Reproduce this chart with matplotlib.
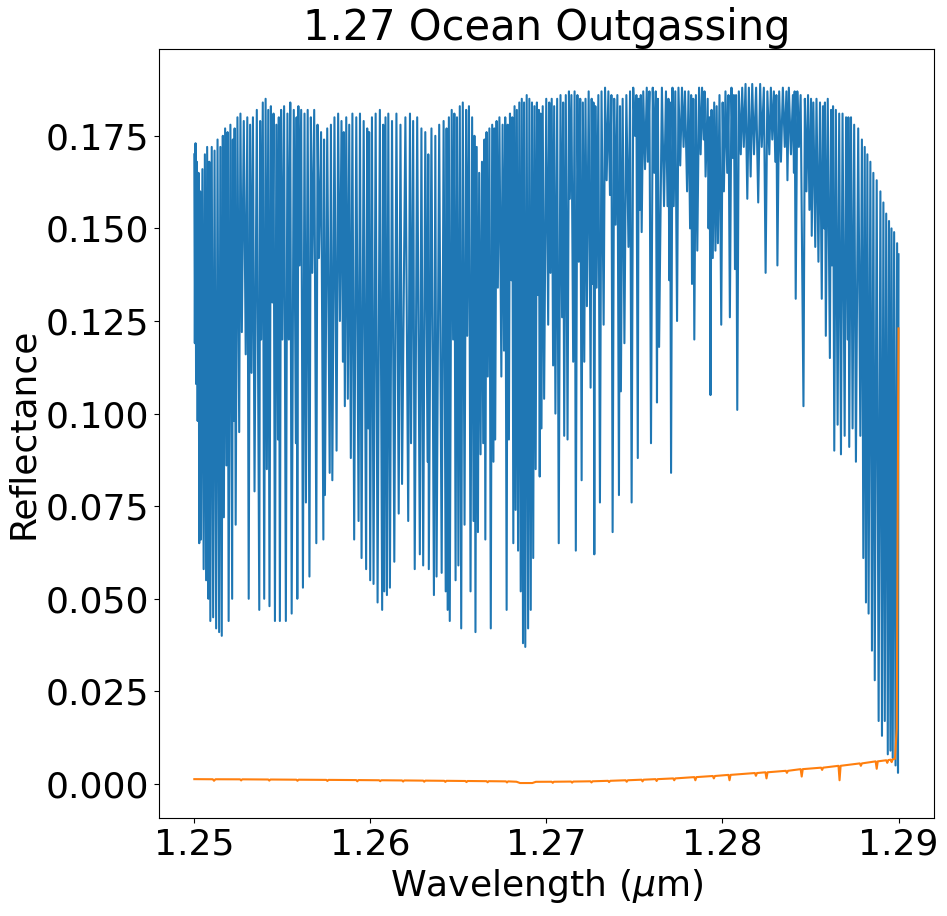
import numpy as np
import matplotlib
matplotlib.use("Agg")
import matplotlib.pyplot as plt

# Reflectance spectrum (wavelength in nm)
blue_wl_nm = [
    1250.00, 1250.03, 1250.07, 1250.10, 1250.14, 1250.19, 1250.24, 1250.28, 1250.33, 1250.38,
    1250.46, 1250.53, 1250.60, 1250.67, 1250.73, 1250.80, 1250.85, 1250.91, 1250.99, 1251.07,
    1251.15, 1251.24, 1251.32, 1251.41, 1251.48, 1251.56, 1251.62, 1251.68, 1251.75, 1251.82,
    1251.89, 1251.95, 1252.05, 1252.15, 1252.19, 1252.24, 1252.29, 1252.35, 1252.45, 1252.55,
    1252.62, 1252.70, 1252.81, 1252.92, 1253.01, 1253.09, 1253.17, 1253.25, 1253.33, 1253.42,
    1253.55, 1253.69, 1253.74, 1253.80, 1253.89, 1253.97, 1254.05, 1254.12, 1254.20, 1254.27,
    1254.35, 1254.43, 1254.50, 1254.58, 1254.66, 1254.75, 1254.80, 1254.86, 1254.93, 1255.00,
    1255.10, 1255.20, 1255.29, 1255.37, 1255.45, 1255.53, 1255.65, 1255.77, 1255.81, 1255.85,
    1255.91, 1255.98, 1256.07, 1256.17, 1256.26, 1256.34, 1256.44, 1256.54, 1256.62, 1256.70,
    1256.81, 1256.93, 1257.00, 1257.08, 1257.20, 1257.33, 1257.37, 1257.42, 1257.55, 1257.69,
    1257.76, 1257.84, 1257.96, 1258.08, 1258.17, 1258.27, 1258.36, 1258.44, 1258.49, 1258.55,
    1258.63, 1258.72, 1258.80, 1258.89, 1258.98, 1259.08, 1259.20, 1259.33, 1259.41, 1259.50,
    1259.62, 1259.76, 1259.82, 1259.88, 1259.93, 1259.99, 1260.09, 1260.18, 1260.30, 1260.41,
    1260.54, 1260.67, 1260.73, 1260.79, 1260.86, 1260.94, 1261.02, 1261.11, 1261.23, 1261.36,
    1261.48, 1261.61, 1261.71, 1261.80, 1261.99, 1262.15, 1262.25, 1262.31, 1262.43, 1262.52,
    1262.66, 1262.81, 1262.90, 1263.00, 1263.12, 1263.25, 1263.29, 1263.32, 1263.47, 1263.61,
    1263.69, 1263.76, 1263.91, 1264.05, 1264.16, 1264.28, 1264.33, 1264.39, 1264.46, 1264.51,
    1264.62, 1264.70, 1264.77, 1264.84, 1264.92, 1265.00, 1265.08, 1265.16, 1265.25, 1265.35,
    1265.44, 1265.50, 1265.60, 1265.69, 1265.78, 1265.86, 1265.91, 1265.97, 1266.04, 1266.11,
    1266.18, 1266.26, 1266.34, 1266.41, 1266.48, 1266.53, 1266.60, 1266.67, 1266.76, 1266.84,
    1266.92, 1266.99, 1267.04, 1267.09, 1267.17, 1267.24, 1267.33, 1267.44, 1267.51, 1267.59,
    1267.66, 1267.74, 1267.80, 1267.87, 1267.93, 1268.01, 1268.06, 1268.12, 1268.19, 1268.25,
    1268.32, 1268.39, 1268.46, 1268.54, 1268.60, 1268.67, 1268.73, 1268.80, 1268.88, 1268.96,
    1269.03, 1269.11, 1269.18, 1269.25, 1269.32, 1269.39, 1269.46, 1269.53, 1269.57, 1269.62,
    1269.67, 1269.72, 1269.79, 1269.87, 1269.99, 1270.10, 1270.16, 1270.23, 1270.30, 1270.38,
    1270.44, 1270.51, 1270.61, 1270.70, 1270.80, 1270.89, 1270.95, 1271.01, 1271.10, 1271.20,
    1271.28, 1271.33, 1271.42, 1271.52, 1271.60, 1271.67, 1271.76, 1271.84, 1271.92, 1272.00,
    1272.07, 1272.15, 1272.22, 1272.30, 1272.40, 1272.51, 1272.57, 1272.62, 1272.67, 1272.72,
    1272.78, 1272.85, 1272.95, 1273.04, 1273.13, 1273.25, 1273.33, 1273.42, 1273.52, 1273.61,
    1273.69, 1273.76, 1273.85, 1273.93, 1274.03, 1274.12, 1274.18, 1274.23, 1274.33, 1274.43,
    1274.54, 1274.66, 1274.75, 1274.84, 1274.93, 1275.03, 1275.11, 1275.19, 1275.24, 1275.30,
    1275.36, 1275.41, 1275.50, 1275.60, 1275.70, 1275.76, 1275.85, 1275.94, 1276.04, 1276.13,
    1276.21, 1276.28, 1276.33, 1276.40, 1276.56, 1276.68, 1276.79, 1276.88, 1276.93, 1276.98,
    1277.02, 1277.08, 1277.16, 1277.23, 1277.32, 1277.42, 1277.50, 1277.60, 1277.70, 1277.79,
    1277.87, 1277.99, 1278.07, 1278.16, 1278.22, 1278.27, 1278.34, 1278.40, 1278.49, 1278.57,
    1278.67, 1278.76, 1278.84, 1278.93, 1278.98, 1279.04, 1279.16, 1279.21, 1279.27, 1279.32,
    1279.38, 1279.45, 1279.53, 1279.60, 1279.67, 1279.74, 1279.83, 1279.93, 1280.01, 1280.08,
    1280.17, 1280.27, 1280.34, 1280.42, 1280.51, 1280.59, 1280.65, 1280.71, 1280.77, 1280.84,
    1280.93, 1281.04, 1281.12, 1281.21, 1281.31, 1281.41, 1281.50, 1281.60, 1281.69, 1281.79,
    1281.91, 1282.03, 1282.14, 1282.23, 1282.35, 1282.45, 1282.55, 1282.66, 1282.75, 1282.83,
    1282.92, 1283.00, 1283.06, 1283.12, 1283.22, 1283.32, 1283.43, 1283.54, 1283.63, 1283.69,
    1283.77, 1283.89, 1284.00, 1284.06, 1284.10, 1284.16, 1284.25, 1284.34, 1284.44, 1284.60,
    1284.68, 1284.77, 1284.86, 1284.94, 1285.03, 1285.07, 1285.16, 1285.27, 1285.34, 1285.45,
    1285.54, 1285.64, 1285.71, 1285.78, 1285.82, 1285.87, 1285.98, 1286.10, 1286.17, 1286.22,
    1286.28, 1286.35, 1286.44, 1286.54, 1286.63, 1286.73, 1286.82, 1286.94, 1287.02, 1287.11,
    1287.15, 1287.20, 1287.30, 1287.39, 1287.48, 1287.58, 1287.71, 1287.83, 1287.92, 1288.00,
    1288.08, 1288.15, 1288.23, 1288.30, 1288.40, 1288.49, 1288.57, 1288.65, 1288.76, 1288.87,
    1288.97, 1289.06, 1289.14, 1289.22, 1289.30, 1289.39, 1289.46, 1289.54, 1289.60, 1289.67,
    1289.75, 1289.83, 1289.92, 1289.97, 1290.00,
]
blue_refl = [
    0.170, 0.119, 0.173, 0.108, 0.168, 0.098, 0.165, 0.065, 0.160, 0.066,
    0.166, 0.058, 0.170, 0.055, 0.172, 0.050, 0.168, 0.044, 0.172, 0.045,
    0.171, 0.042, 0.174, 0.041, 0.172, 0.040, 0.175, 0.072, 0.177, 0.086,
    0.176, 0.044, 0.178, 0.050, 0.174, 0.098, 0.177, 0.070, 0.180, 0.095,
    0.181, 0.122, 0.179, 0.116, 0.180, 0.050, 0.178, 0.111, 0.180, 0.079,
    0.182, 0.047, 0.179, 0.120, 0.184, 0.050, 0.185, 0.085, 0.182, 0.048,
    0.183, 0.130, 0.181, 0.044, 0.178, 0.093, 0.180, 0.044, 0.182, 0.120,
    0.183, 0.044, 0.181, 0.120, 0.184, 0.046, 0.182, 0.092, 0.180, 0.050,
    0.183, 0.140, 0.182, 0.053, 0.181, 0.076, 0.182, 0.056, 0.180, 0.138,
    0.182, 0.065, 0.178, 0.142, 0.176, 0.066, 0.174, 0.078, 0.177, 0.084,
    0.178, 0.082, 0.180, 0.090, 0.181, 0.125, 0.179, 0.114, 0.176, 0.102,
    0.180, 0.104, 0.178, 0.088, 0.181, 0.066, 0.180, 0.071, 0.181, 0.061,
    0.179, 0.058, 0.177, 0.096, 0.176, 0.055, 0.180, 0.054, 0.181, 0.049,
    0.182, 0.047, 0.178, 0.052, 0.180, 0.051, 0.181, 0.053, 0.179, 0.060,
    0.181, 0.073, 0.178, 0.081, 0.180, 0.071, 0.181, 0.092, 0.179, 0.058,
    0.180, 0.062, 0.177, 0.059, 0.176, 0.087, 0.170, 0.058, 0.177, 0.051,
    0.175, 0.056, 0.178, 0.057, 0.179, 0.052, 0.177, 0.047, 0.180, 0.044,
    0.182, 0.120, 0.181, 0.055, 0.180, 0.059, 0.183, 0.042, 0.184, 0.070,
    0.182, 0.121, 0.183, 0.052, 0.180, 0.071, 0.175, 0.041, 0.172, 0.068,
    0.165, 0.089, 0.168, 0.092, 0.174, 0.066, 0.176, 0.110, 0.177, 0.042,
    0.178, 0.087, 0.177, 0.093, 0.179, 0.134, 0.180, 0.110, 0.178, 0.117,
    0.180, 0.047, 0.178, 0.093, 0.181, 0.136, 0.180, 0.065, 0.183, 0.074,
    0.182, 0.063, 0.184, 0.052, 0.185, 0.038, 0.184, 0.037, 0.186, 0.042,
    0.185, 0.047, 0.184, 0.061, 0.183, 0.085, 0.184, 0.132, 0.182, 0.083,
    0.181, 0.096, 0.183, 0.104, 0.185, 0.124, 0.184, 0.138, 0.185, 0.113,
    0.183, 0.100, 0.185, 0.065, 0.186, 0.126, 0.184, 0.094, 0.186, 0.093,
    0.187, 0.158, 0.186, 0.114, 0.187, 0.063, 0.186, 0.141, 0.185, 0.082,
    0.184, 0.114, 0.185, 0.129, 0.187, 0.107, 0.185, 0.135, 0.184, 0.062,
    0.183, 0.134, 0.186, 0.076, 0.187, 0.124, 0.188, 0.163, 0.187, 0.159,
    0.186, 0.068, 0.185, 0.151, 0.186, 0.078, 0.183, 0.106, 0.185, 0.119,
    0.186, 0.145, 0.187, 0.076, 0.188, 0.175, 0.186, 0.088, 0.185, 0.155,
    0.186, 0.149, 0.187, 0.166, 0.188, 0.168, 0.187, 0.092, 0.188, 0.165,
    0.187, 0.103, 0.185, 0.118, 0.188, 0.156, 0.187, 0.156, 0.185, 0.136,
    0.184, 0.084, 0.188, 0.156, 0.187, 0.125, 0.188, 0.167, 0.188, 0.172,
    0.187, 0.160, 0.187, 0.150, 0.186, 0.135, 0.185, 0.120, 0.186, 0.144,
    0.188, 0.170, 0.188, 0.174, 0.187, 0.164, 0.185, 0.150, 0.180, 0.105,
    0.182, 0.142, 0.184, 0.144, 0.183, 0.146, 0.186, 0.124, 0.184, 0.160,
    0.187, 0.165, 0.186, 0.126, 0.188, 0.169, 0.186, 0.139, 0.186, 0.101,
    0.187, 0.170, 0.188, 0.172, 0.189, 0.158, 0.188, 0.164, 0.189, 0.170,
    0.188, 0.157, 0.189, 0.172, 0.188, 0.138, 0.187, 0.170, 0.188, 0.174,
    0.187, 0.168, 0.186, 0.140, 0.187, 0.168, 0.188, 0.172, 0.187, 0.163,
    0.188, 0.170, 0.186, 0.165, 0.187, 0.131, 0.187, 0.172, 0.186, 0.102,
    0.185, 0.160, 0.186, 0.155, 0.185, 0.148, 0.184, 0.145, 0.185, 0.141,
    0.184, 0.131, 0.183, 0.150, 0.184, 0.121, 0.185, 0.115, 0.182, 0.140,
    0.183, 0.090, 0.182, 0.097, 0.181, 0.089, 0.181, 0.094, 0.180, 0.120,
    0.180, 0.091, 0.180, 0.096, 0.178, 0.087, 0.177, 0.094, 0.174, 0.061,
    0.172, 0.049, 0.170, 0.046, 0.168, 0.036, 0.165, 0.028, 0.163, 0.017,
    0.160, 0.013, 0.157, 0.017, 0.154, 0.008, 0.152, 0.009, 0.150, 0.007,
    0.149, 0.005, 0.146, 0.003, 0.143,
]

# second spectrum (orange), wavelength in nm
orange_wl_nm = [
    1250.00, 1251.05, 1251.12, 1251.20, 1252.60, 1252.66, 1252.72, 1254.20, 1254.26, 1254.32,
    1255.80, 1255.86, 1255.92, 1257.50, 1257.56, 1257.62, 1259.20, 1259.26, 1259.32, 1260.50,
    1260.56, 1260.62, 1261.80, 1261.86, 1261.92, 1263.00, 1263.06, 1263.12, 1264.20, 1264.26,
    1264.32, 1265.40, 1265.46, 1265.52, 1266.60, 1266.66, 1266.72, 1267.70, 1267.76, 1267.82,
    1268.30, 1268.50, 1269.20, 1269.40, 1270.30, 1270.36, 1270.42, 1271.40, 1271.46, 1271.52,
    1272.50, 1272.56, 1272.62, 1273.50, 1273.56, 1273.62, 1274.50, 1274.56, 1274.62, 1275.40,
    1275.46, 1275.52, 1276.20, 1276.26, 1276.32, 1277.20, 1277.26, 1277.32, 1278.40, 1278.46,
    1278.52, 1279.45, 1279.51, 1279.57, 1280.34, 1280.40, 1280.46, 1281.84, 1281.90, 1281.96,
    1282.44, 1282.50, 1282.56, 1283.60, 1283.66, 1283.72, 1284.44, 1284.50, 1284.56, 1285.60,
    1285.66, 1285.72, 1286.59, 1286.65, 1286.71, 1287.80, 1287.86, 1287.92, 1288.70, 1288.76,
    1288.82, 1289.30, 1289.36, 1289.42, 1289.55, 1289.61, 1289.67, 1289.80, 1289.90, 1290.00,
]
orange_refl = [
    0.00130, 0.00127, 0.00085, 0.00127, 0.00125, 0.00095, 0.00125, 0.00120, 0.00090, 0.00120,
    0.00115, 0.00085, 0.00115, 0.00110, 0.00080, 0.00110, 0.00105, 0.00070, 0.00105, 0.00100,
    0.00075, 0.00100, 0.00095, 0.00065, 0.00095, 0.00090, 0.00060, 0.00090, 0.00085, 0.00055,
    0.00085, 0.00080, 0.00050, 0.00080, 0.00075, 0.00045, 0.00075, 0.00070, 0.00040, 0.00070,
    0.00060, 0.00025, 0.00025, 0.00058, 0.00060, 0.00030, 0.00060, 0.00065, 0.00035, 0.00065,
    0.00072, 0.00040, 0.00072, 0.00085, 0.00050, 0.00085, 0.00100, 0.00060, 0.00100, 0.00115,
    0.00070, 0.00115, 0.00130, 0.00080, 0.00130, 0.00150, 0.00100, 0.00150, 0.00185, 0.00100,
    0.00185, 0.00215, 0.00150, 0.00215, 0.00245, 0.00100, 0.00245, 0.00295, 0.00220, 0.00295,
    0.00315, 0.00150, 0.00315, 0.00355, 0.00300, 0.00355, 0.00400, 0.00200, 0.00400, 0.00440,
    0.00380, 0.00440, 0.00490, 0.00100, 0.00490, 0.00555, 0.00490, 0.00555, 0.00610, 0.00410,
    0.00610, 0.00640, 0.00570, 0.00645, 0.00655, 0.00590, 0.00665, 0.00680, 0.01500, 0.12300,
]

blue_wl = np.array(blue_wl_nm) / 1000.0
orange_wl = np.array(orange_wl_nm) / 1000.0

fig = plt.figure(figsize=(9.47, 9.16), dpi=100)
ax = fig.add_axes([0.168, 0.107, 0.818, 0.8395])

ax.plot(blue_wl, blue_refl, color="C0", linewidth=1.5)
ax.plot(orange_wl, orange_refl, color="C1", linewidth=1.5)

ax.set_title("1.27 Ocean Outgassing", fontsize=30)
ax.set_xlabel(r"Wavelength ($\mu$m)", fontsize=26)
ax.set_ylabel("Reflectance", fontsize=26)
ax.tick_params(labelsize=26)
ax.set_xticks([1.25, 1.26, 1.27, 1.28, 1.29])

fig.savefig("out.png", dpi=100)
